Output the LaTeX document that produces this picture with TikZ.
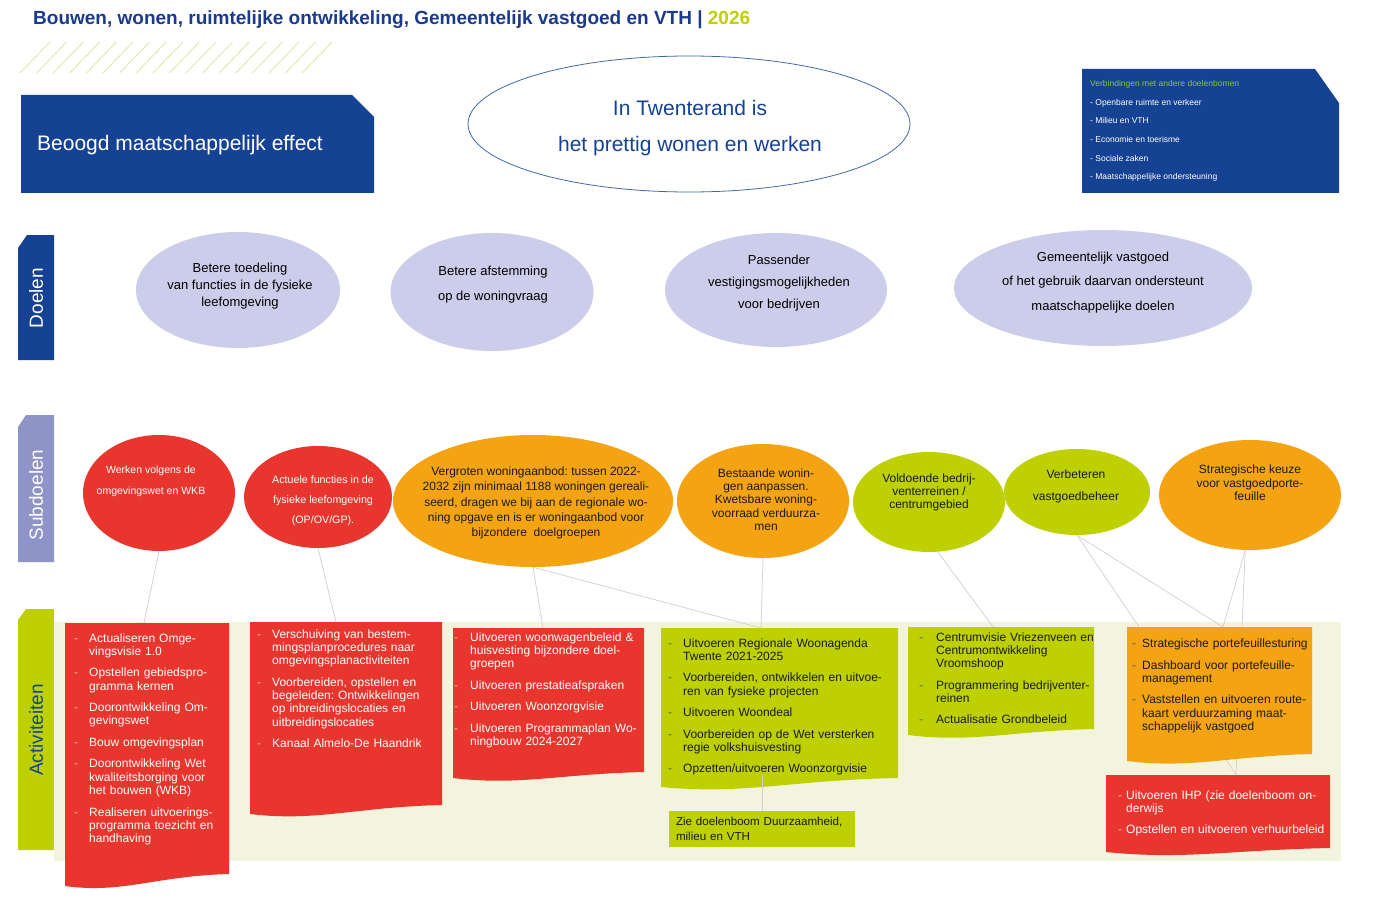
\documentclass[tikz,border=0pt]{standalone}
\usepackage{fontspec}
\setmainfont{Liberation Sans}
\usetikzlibrary{shapes.geometric}
\frenchspacing

\definecolor{tblue}{RGB}{22,66,148}
\definecolor{ttitle}{RGB}{28,58,140}
\definecolor{tgreen}{RGB}{190,208,0}
\definecolor{tlight}{RGB}{140,198,63}
\definecolor{tred}{RGB}{232,53,45}
\definecolor{torange}{RGB}{244,164,18}
\definecolor{tlav}{RGB}{204,205,234}
\definecolor{tlavdark}{RGB}{142,147,200}
\definecolor{tbg}{RGB}{242,244,222}
\definecolor{tline}{RGB}{208,208,208}
\definecolor{thatch}{RGB}{222,230,160}
\definecolor{tpink}{RGB}{246,180,172}
\definecolor{tink}{RGB}{26,26,26}

% one activity line with a dash in front
\newlength{\actind}
\setlength{\actind}{15pt}
\colorlet{dashc}{tpink}
\newcommand{\ai}[1]{\par\hangindent=\actind\hangafter=1\noindent\makebox[\actind][l]{\textcolor{dashc}{-}}#1\par\vspace{8.2pt}}

% activity sheet: colour, left, top, right, bottom left, bottom right
\newcommand{\actbox}[6]{%
    \pgfmathsetmacro\wva{0.45*(#4-#2)}
    \pgfmathsetmacro\wvb{0.35*(#4-#2)}
    \fill[#1] (#2,#3) -- (#4,#3) -- (#4,#6) .. controls +(-\wva,2) and +(\wvb,8) .. (#2,#5) -- cycle;
}

\begin{document}
\begin{tikzpicture}[x=1pt, y=-1pt,
    goal/.style={ellipse, fill=tlav, inner sep=0pt},
    sub/.style={ellipse, inner sep=0pt},
    bubtxt/.style={align=center, inner sep=0pt},
    conn/.style={draw=tline, line width=0.7pt},
    acttxt/.style={anchor=north west, inner sep=0pt, text width=300pt, font=\fontsize{12}{13.3}\selectfont},
    actwhite/.style={acttxt, text=white, execute at begin node={\colorlet{dashc}{tpink}}},
    actdark/.style={acttxt, text=tink, execute at begin node={\colorlet{dashc}{tink!70}}},
    sidelbl/.style={rotate=90, inner sep=0pt, font=\fontsize{19}{19}\selectfont}]
    \fill[white] (0,0) rectangle (1377,915);
    \useasboundingbox (0,0) rectangle (1377,915);

    % Title and hatching
    \node[anchor=base west, inner sep=0pt, text=ttitle, font=\bfseries\fontsize{19}{19}\selectfont] (title) at (33,25) {Bouwen, wonen, ruimtelijke ontwikkeling, Gemeentelijk vastgoed en VTH | \textcolor{tgreen}{2026}};
    \foreach \i in {0,...,17}
        \draw[thatch, line width=0.8pt] ({20+16.6*\i},73) -- ({50+16.6*\i},42);

    % Effect row
    \fill[tblue] (21,95) -- (352,95) -- (374,117) -- (374,193) -- (21,193) -- cycle;
    \node[anchor=base west, inner sep=0pt, text=white, font=\fontsize{21}{21}\selectfont] (effect) at (37,151) {Beoogd maatschappelijk effect};
    \node[ellipse, draw=tblue!80, line width=0.8pt, fill=white, minimum width=442pt, minimum height=136pt] (vision) at (689,124) {};
    \node[bubtxt, text=tblue, font=\fontsize{21}{36}\selectfont] (visiontxt) at (690,128) {In Twenterand is\\het prettig wonen en werken};
    \fill[tblue] (1082,69) -- (1315,69) -- (1339,103) -- (1339,193) -- (1082,193) -- cycle;
    \node[anchor=north west, inner sep=0pt, align=left, text=white, font=\fontsize{8.5}{18.7}\selectfont] (links) at (1090,80) {\textcolor{tlight}{Verbindingen met andere doelenbomen}\\- Openbare ruimte en verkeer\\- Milieu en VTH\\- Economie en toerisme\\- Sociale zaken\\- Maatschappelijke ondersteuning};

    % Side labels
    \fill[tblue] (18,248) -- (27,235) -- (54,235) -- (54,360) -- (18,360) -- cycle;
    \node[sidelbl, text=white] (doelenlbl) at (36,298) {Doelen};
    \fill[tlavdark] (18,427) -- (26,415) -- (54,415) -- (54,562) -- (18,562) -- cycle;
    \node[sidelbl, text=white] (sublbl) at (36,495) {Subdoelen};
    \fill[tgreen] (18,620) -- (26,609) -- (54,609) -- (54,850) -- (18,850) -- cycle;
    \node[sidelbl, text=tblue] (actlbl) at (36,730) {Activiteiten};

    % Doelen
    \node[goal, minimum width=204pt, minimum height=116pt] (d1) at (238,290) {};
    \node[bubtxt, font=\fontsize{13}{17}\selectfont] (d1txt) at (240,286) {Betere toedeling\\van functies in de fysieke\\leefomgeving};
    \node[goal, minimum width=203pt, minimum height=118pt] (d2) at (492,292) {};
    \node[bubtxt, font=\fontsize{13}{25}\selectfont] (d2txt) at (493,285) {Betere afstemming\\op de woningvraag};
    \node[goal, minimum width=222pt, minimum height=114pt] (d3) at (776,290) {};
    \node[bubtxt, font=\fontsize{13}{22}\selectfont] (d3txt) at (779,283) {Passender\\vestigingsmogelijkheden\\voor bedrijven};
    \node[goal, minimum width=298pt, minimum height=116pt] (d4) at (1103,288) {};
    \node[bubtxt, font=\fontsize{13}{24.5}\selectfont] (d4txt) at (1103,282.5) {Gemeentelijk vastgoed\\of het gebruik daarvan ondersteunt\\maatschappelijke doelen};

    % Activities background
    \fill[tbg] (54,622) rectangle (1341,861);

    % Connector end points on the sheets
    \coordinate (a1top) at (144,623);
    \coordinate (a2top) at (336,622);
    \coordinate (a3top) at (543,628);
    \coordinate (a4top) at (761,628);
    \coordinate (a4bot) at (762,775);
    \coordinate (a6top) at (993,627);
    \coordinate (a7topl) at (1139,627);
    \coordinate (a7topr) at (1223,627);
    \coordinate (a7bot) at (1217,745);
    \coordinate (a8top) at (1236,775);

    % Subdoelen
    \node[sub, fill=tred, minimum width=152pt, minimum height=116pt] (s1) at (159,493) {};
    \node[sub, fill=tred, minimum width=148pt, minimum height=102pt] (s2) at (318,497) {};
    \node[sub, fill=torange, minimum width=280pt, minimum height=132pt] (s3) at (533,501) {};
    \node[sub, fill=torange, minimum width=172pt, minimum height=114pt] (s4) at (763,501) {};
    \node[sub, fill=tgreen, minimum width=152pt, minimum height=100pt] (s5) at (929,502) {};
    \node[sub, fill=tgreen, minimum width=146pt, minimum height=86pt] (s6) at (1077,492) {};
    \node[sub, fill=torange, minimum width=182pt, minimum height=110pt] (s7) at (1250,495) {};
    \node[bubtxt, text=white, font=\fontsize{10.5}{21}\selectfont] (s1txt) at (151,481) {Werken volgens de\\omgevingswet en WKB};
    \node[bubtxt, text=white, font=\fontsize{10.7}{20}\selectfont] (s2txt) at (323,501) {Actuele functies in de\\fysieke leefomgeving\\(OP/OV/GP).};
    \node[bubtxt, text=tink, font=\fontsize{12}{15.4}\selectfont] (s3txt) at (536,503) {Vergroten woningaanbod: tussen 2022-\\2032 zijn minimaal 1188 woningen gereali-\\seerd, dragen we bij aan de regionale wo-\\ning opgave en is er woningaanbod voor\\bijzondere\ \ doelgroepen};
    \node[bubtxt, text=tink, font=\fontsize{12}{13.3}\selectfont] (s4txt) at (766,499.5) {Bestaande wonin-\\gen aanpassen.\\Kwetsbare woning-\\voorraad verduurza-\\men};
    \node[bubtxt, text=tink, font=\fontsize{12}{13}\selectfont] (s5txt) at (929,492) {Voldoende bedrij-\\venterreinen /\\centrumgebied};
    \node[bubtxt, text=tink, font=\fontsize{12}{22}\selectfont] (s6txt) at (1076,486) {Verbeteren\\vastgoedbeheer};
    \node[bubtxt, text=tink, font=\fontsize{12}{13.3}\selectfont] (s7txt) at (1250,483) {Strategische keuze\\voor vastgoedporte-\\feuille};

    % Connectors
    \draw[conn] (s1.south) -- (a1top);
    \draw[conn] (s2.south) -- (a2top);
    \draw[conn] (s3.south) -- (a3top);
    \draw[conn] (s3.south) -- (a4top);
    \draw[conn] (s4.south) -- (a4top);
    \draw[conn] (s5.-80) -- (a6top);
    \draw[conn] (s6.south) -- (a7topl);
    \draw[conn] (s6.south) -- (a7topr);
    \draw[conn] (s7.-95) -- (a7topr);
    \draw[conn] (s7.-95) -- (a8top);
    \draw[conn] (a7bot) -- (a8top);

    % Activity sheets
    \actbox{tred}{65}{623}{229}{886}{874}
    \node[actwhite] (a1) at (74,628.5) {%
        \ai{Actualiseren Omge-\newline vingsvisie 1.0}
        \ai{Opstellen gebiedspro-\newline gramma kernen}
        \ai{Doorontwikkeling Om-\newline gevingswet}
        \ai{Bouw omgevingsplan}
        \ai{Doorontwikkeling Wet\newline kwaliteitsborging voor\newline het bouwen (WKB)}
        \ai{Realiseren uitvoerings-\newline programma toezicht en\newline handhaving}};

    \actbox{tred}{250}{622}{442}{814}{805}
    \node[actwhite] (a2) at (257,624.5) {%
        \ai{Verschuiving van bestem-\newline mingsplanprocedures naar\newline omgevingsplanactiviteiten}
        \ai{Voorbereiden, opstellen en\newline begeleiden: Ontwikkelingen\newline op inbreidingslocaties en\newline uitbreidingslocaties}
        \ai{Kanaal Almelo-De Haandrik}};

    \actbox{tred}{453}{628}{644}{778}{772}
    \node[actwhite] (a3) at (454,627.5) {\setlength{\actind}{16pt}%
        \ai{Uitvoeren woonwagenbeleid \&\newline huisvesting bijzondere doel-\newline groepen}
        \ai{Uitvoeren prestatieafspraken}
        \ai{Uitvoeren Woonzorgvisie}
        \ai{Uitvoeren Programmaplan Wo-\newline ningbouw 2024-2027}};

    \actbox{tgreen}{661}{628}{898}{787}{778}
    \node[actdark] (a4) at (668,633.5) {%
        \ai{Uitvoeren Regionale Woonagenda\newline Twente 2021-2025}
        \ai{Voorbereiden, ontwikkelen en uitvoe-\newline ren van fysieke projecten}
        \ai{Uitvoeren Woondeal}
        \ai{Voorbereiden op de Wet versterken\newline regie volkshuisvesting}
        \ai{Opzetten/uitvoeren Woonzorgvisie}};

    \node[fill=tgreen, minimum width=186pt, minimum height=36pt, inner xsep=0pt, text width=172pt, align=left, text=tink, font=\fontsize{11.6}{15}\selectfont] (a5) at (762,829) {Zie doelenboom Duurzaamheid,\\milieu en VTH};
    \draw[conn] (a4bot) -- (a5.north);

    \actbox{tgreen}{908}{627}{1094}{735}{729}
    \node[actdark] (a6) at (919,627.5) {\setlength{\actind}{17pt}%
        \ai{Centrumvisie Vriezenveen en\newline Centrumontwikkeling\newline Vroomshoop}
        \ai{Programmering bedrijventer-\newline reinen}
        \ai{Actualisatie Grondbeleid}};

    \actbox{torange}{1127}{627}{1312}{761}{754}
    \node[actdark] (a7) at (1132,634) {\setlength{\actind}{10pt}%
        \ai{Strategische portefeuillesturing}
        \ai{Dashboard voor portefeuille-\newline management}
        \ai{Vaststellen en uitvoeren route-\newline kaart verduurzaming maat-\newline schappelijk vastgoed}};

    \actbox{tred}{1106}{775}{1330}{852}{848}
    \node[actwhite] (a8) at (1118,785.5) {\setlength{\actind}{8pt}%
        \ai{Uitvoeren IHP (zie doelenboom on-\newline derwijs}
        \ai{Opstellen en uitvoeren verhuurbeleid}};
\end{tikzpicture}
\end{document}
